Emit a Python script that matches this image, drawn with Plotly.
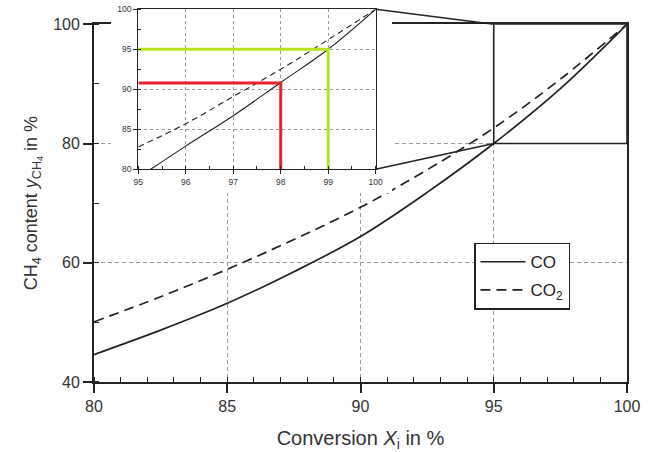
import plotly.graph_objects as go

# ---------------- data ----------------
# main chart: conversion X_i (%) vs CH4 content (%)
conv_main = [80, 82.5, 85, 87.5, 90, 92.5, 95, 97.5, 100]
co_main = [44.6, 48.7, 53.2, 58.5, 64.4, 71.8, 80.0, 89.2, 100.0]
co2_main = [50.1, 54.3, 58.9, 63.9, 69.3, 75.6, 82.6, 90.8, 100.0]

# zoomed inset (95..100 %)
conv_inset_co = [95.26, 96, 97, 98, 99, 100]
co_inset = [80.0, 82.9, 86.7, 90.85, 95.0, 100.0]
conv_inset_co2 = [95, 96, 97, 98, 99, 100]
co2_inset = [82.8, 85.7, 89.1, 92.5, 96.2, 100.0]

# highlighted operating points on the CO curve
mark_conv = [98, 99]
mark_ch4 = [90.8, 95.0]
mark_colors = ["#e3242b", "#b5e61d"]

# axes
main_xrange = [80, 100]
main_yrange = [40, 100]
inset_xrange = [95, 100]
inset_yrange = [80, 100]
x_ticks_main = [80, 85, 90, 95, 100]
y_ticks_main = [40, 60, 80, 100]
x_ticks_inset = [95, 96, 97, 98, 99, 100]
y_ticks_inset = [80, 85, 90, 95, 100]

# ---------------- layout geometry ----------------
W, H = 651, 452
ML, MR, MT, MB = 94, 24, 0, 70
main_ydom = [0, 0.9364]
inset_xdom = [0.0831, 0.5285]
inset_ydom = [0.5568, 0.9757]
cover_xdom = [0.0319, 0.5591]
cover_ydom = [0.4948, 1.0]

FONT = "Liberation Sans, Arial, Helvetica, sans-serif"
INK = "#222222"
TXT = "#333333"
GRID = "#9a9a9a"

fig = go.Figure()

# main curves
fig.add_trace(go.Scatter(x=conv_main, y=co_main, name="CO", mode="lines",
                         line=dict(color=INK, width=1.7, shape="spline"),
                         legendgroup="a", xaxis="x", yaxis="y"))
fig.add_trace(go.Scatter(x=conv_main, y=co2_main, name="CO<sub>2</sub>", mode="lines",
                         line=dict(color=INK, width=1.7, dash="10px,6px", shape="spline"),
                         legendgroup="b", xaxis="x", yaxis="y"))

# white cover behind the inset (empty subplot)
fig.add_trace(go.Scatter(x=[None], y=[None], showlegend=False, hoverinfo="skip",
                         xaxis="x2", yaxis="y2"))

# inset curves
fig.add_trace(go.Scatter(x=conv_inset_co, y=co_inset, mode="lines", showlegend=False,
                         line=dict(color=INK, width=1.1, shape="spline"),
                         xaxis="x3", yaxis="y3"))
fig.add_trace(go.Scatter(x=conv_inset_co2, y=co2_inset, mode="lines", showlegend=False,
                         line=dict(color=INK, width=1.1, dash="6px,4px", shape="spline"),
                         xaxis="x3", yaxis="y3"))

# highlighted points
for c, v, col in zip(mark_conv, mark_ch4, mark_colors):
    fig.add_trace(go.Scatter(x=[inset_xrange[0], c, c], y=[v, v, inset_yrange[0]],
                             mode="lines", showlegend=False,
                             line=dict(color=col, width=3),
                             xaxis="x3", yaxis="y3"))

tickfont = dict(family=FONT, size=16, color=TXT)
small = dict(family=FONT, size=8.5, color=TXT)

fig.update_layout(
    width=W, height=H,
    margin=dict(l=ML, r=MR, t=MT, b=MB, autoexpand=False),
    paper_bgcolor="white", plot_bgcolor="white",
    font=dict(family=FONT, color=TXT),
    showlegend=True,
    legend=dict(x=(474 - ML) / (W - ML - MR), y=(H - MB - 242.7) / (H - MB - MT),
                xanchor="left", yanchor="top",
                bgcolor="white", bordercolor=INK, borderwidth=1.5,
                font=dict(family=FONT, size=17, color=INK),
                traceorder="grouped", tracegroupgap=3, itemwidth=45),
    xaxis=dict(range=main_xrange, domain=[0, 1], anchor="y", automargin=False,
               tickvals=x_ticks_main, ticks="outside", ticklen=9, tickwidth=1.5,
               tickcolor=INK, tickfont=tickfont,
               minor=dict(dtick=1, ticks="inside", ticklen=5, tickwidth=1.2,
                          tickcolor=INK, showgrid=False),
               showline=True, linecolor=INK, linewidth=1.8, mirror=True,
               showgrid=True, gridcolor=GRID, griddash="4px,3px", gridwidth=1,
               zeroline=False,
               title=dict(text="Conversion <i>X</i><sub>i</sub> in %",
                          font=dict(family=FONT, size=20, color=TXT), standoff=19)),
    yaxis=dict(range=main_yrange, domain=main_ydom, anchor="x", automargin=False,
               tickvals=y_ticks_main, ticks="outside", ticklen=9, tickwidth=1.5,
               tickcolor=INK, tickfont=tickfont,
               minor=dict(dtick=10, ticks="inside", ticklen=5, tickwidth=1.2,
                          tickcolor=INK, showgrid=False),
               showline=True, linecolor=INK, linewidth=1.8, mirror=True,
               showgrid=True, gridcolor=GRID, griddash="4px,3px", gridwidth=1,
               zeroline=False,
               title=dict(text="CH<sub>4</sub> content <i>y</i><sub>CH<sub>4</sub></sub> in %",
                          font=dict(family=FONT, size=18, color=TXT), standoff=11)),
    # overlay axes: inner half of the crossing major ticks
    xaxis4=dict(range=main_xrange, overlaying="x", anchor="y", tickvals=x_ticks_main,
                ticks="inside", ticklen=9, tickwidth=1.5, tickcolor=INK, automargin=False,
                showticklabels=False, showgrid=False, showline=False, zeroline=False),
    yaxis4=dict(range=main_yrange, overlaying="y", anchor="x", tickvals=y_ticks_main,
                ticks="inside", ticklen=9, tickwidth=1.5, tickcolor=INK, automargin=False,
                showticklabels=False, showgrid=False, showline=False, zeroline=False),
    # cover
    xaxis2=dict(domain=cover_xdom, anchor="y2", range=[0, 1], visible=False, automargin=False),
    yaxis2=dict(domain=cover_ydom, anchor="x2", range=[0, 1], visible=False, automargin=False),
    # inset
    xaxis3=dict(range=inset_xrange, domain=inset_xdom, anchor="y3", automargin=False,
                tickvals=x_ticks_inset, ticks="outside", ticklen=4, tickwidth=1,
                tickcolor=INK, tickfont=small,
                minor=dict(dtick=0.5, ticks="inside", ticklen=3, tickwidth=1,
                           tickcolor=INK, showgrid=False),
                showline=True, linecolor=INK, linewidth=1.3, mirror=True,
                showgrid=True, gridcolor=GRID, griddash="3px,3px", gridwidth=1,
                zeroline=False),
    yaxis3=dict(range=inset_yrange, domain=inset_ydom, anchor="x3", automargin=False,
                tickvals=y_ticks_inset, ticks="outside", ticklen=4, tickwidth=1,
                tickcolor=INK, tickfont=small,
                minor=dict(dtick=2.5, ticks="inside", ticklen=3, tickwidth=1,
                           tickcolor=INK, showgrid=False),
                showline=True, linecolor=INK, linewidth=1.3, mirror=True,
                showgrid=True, gridcolor=GRID, griddash="3px,3px", gridwidth=1,
                zeroline=False),
)

# zoom rectangle in the main chart
fig.add_shape(type="rect", xref="x", yref="y", layer="above",
              x0=inset_xrange[0], x1=inset_xrange[1], y0=inset_yrange[0], y1=inset_yrange[1],
              line=dict(color=INK, width=1.6))

# connector lines from inset to zoom rectangle (paper coords)
def main_px(xv):
    return (xv - main_xrange[0]) / (main_xrange[1] - main_xrange[0])

def main_py(yv):
    return main_ydom[0] + (main_ydom[1] - main_ydom[0]) * (yv - main_yrange[0]) / (main_yrange[1] - main_yrange[0])

for iy, my in ((inset_ydom[1], inset_yrange[1]), (inset_ydom[0], inset_yrange[0])):
    fig.add_shape(type="line", xref="paper", yref="paper", layer="above",
                  x0=inset_xdom[1], y0=iy, x1=main_px(inset_xrange[0]), y1=main_py(my),
                  line=dict(color=INK, width=1.6))

fig.write_html("out.html", config={"displayModeBar": False},
               post_script="document.body.style.margin='0';document.body.style.padding='0';")
